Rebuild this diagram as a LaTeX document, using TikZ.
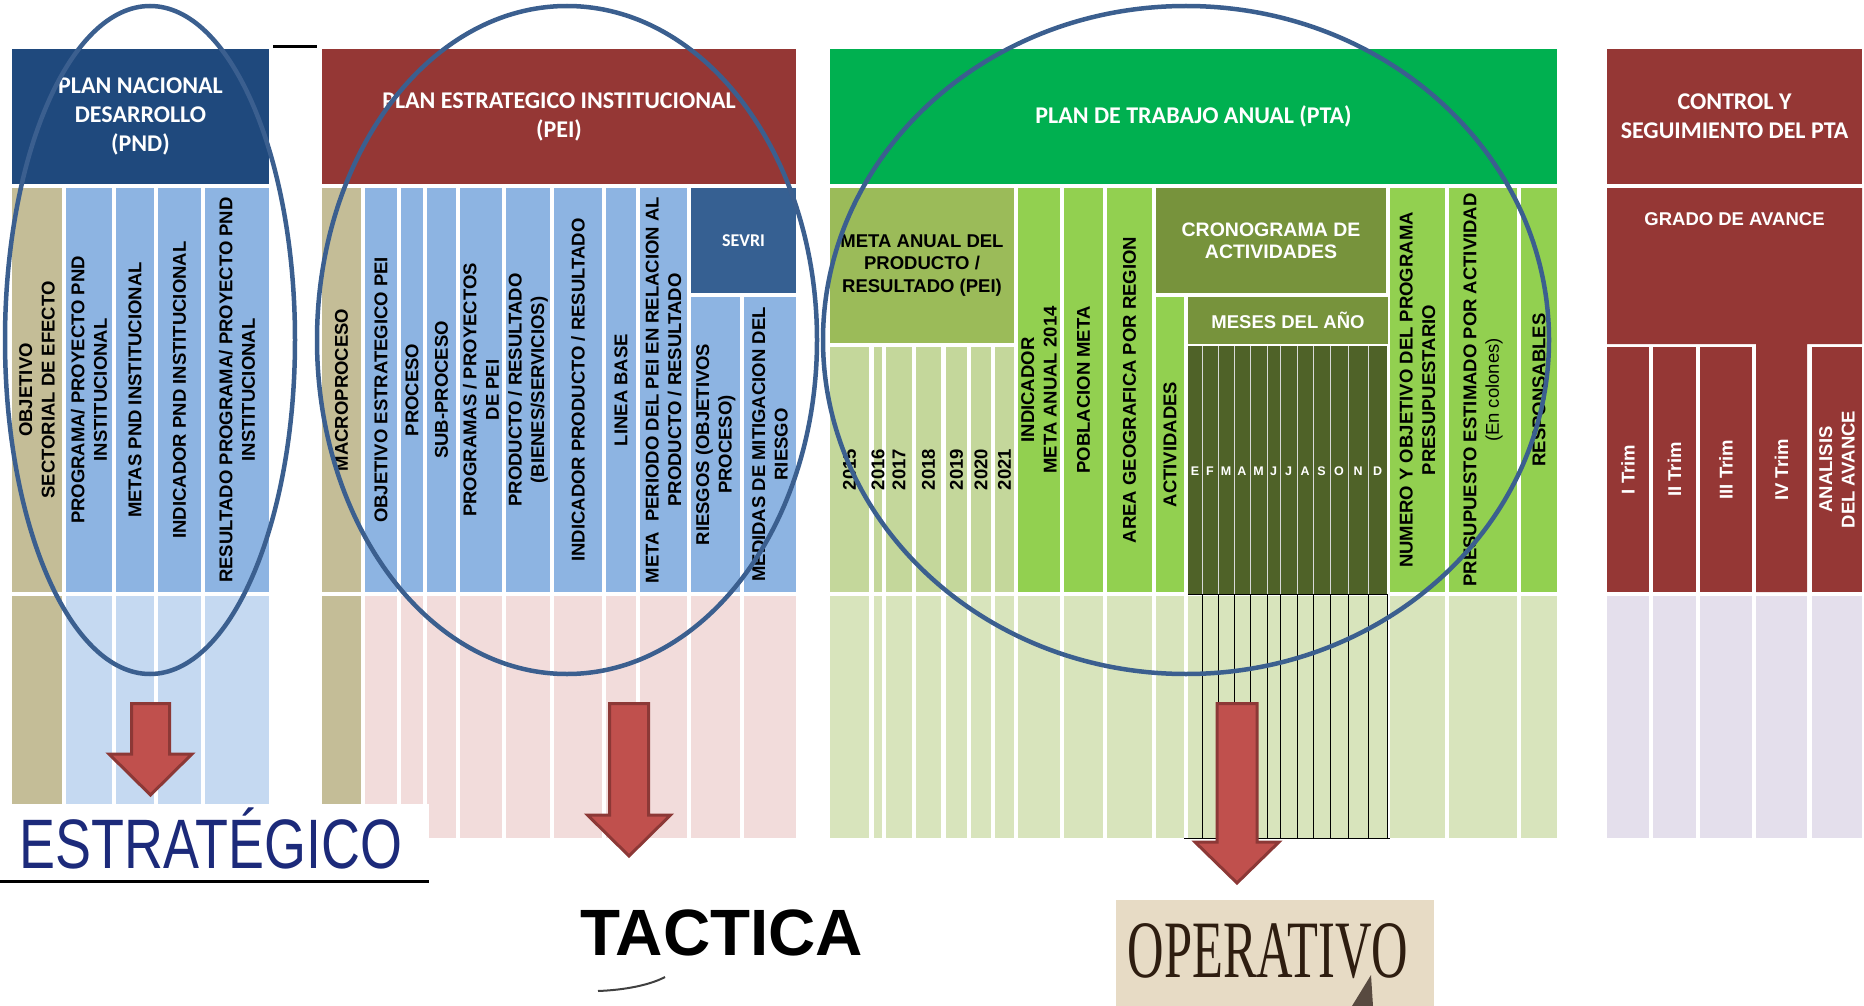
\documentclass[tikz,border=0pt]{standalone}
\usepackage{fontspec}
\setmainfont{Liberation Sans}
\newfontfamily\calib{Carlito}
\newfontfamily\oldserif{Liberation Serif}
\usepackage{graphicx}
\usepackage{tikz}
\definecolor{pndblue}{HTML}{1F497D}
\definecolor{peired}{HTML}{953735}
\definecolor{ptagreen}{HTML}{00B050}
\definecolor{cTan}{HTML}{C4BD97}
\definecolor{cBlue}{HTML}{8DB4E2}
\definecolor{cSky}{HTML}{C5D9F1}
\definecolor{cPink}{HTML}{F2DCDB}
\definecolor{cSevri}{HTML}{366092}
\definecolor{cMeta}{HTML}{9BBB59}
\definecolor{cYear}{HTML}{C4D79B}
\definecolor{cLime}{HTML}{92D050}
\definecolor{cOlive}{HTML}{77933C}
\definecolor{cDark}{HTML}{4F6228}
\definecolor{cPale}{HTML}{D8E4BC}
\definecolor{cLav}{HTML}{E4DFEC}
\definecolor{ringblue}{HTML}{3B5F8F}
\definecolor{arrowred}{HTML}{C0504D}
\definecolor{arrowdark}{HTML}{8C3836}
\definecolor{navy}{HTML}{1C2A7A}
\definecolor{beige}{HTML}{E7DBC5}
\definecolor{brown}{HTML}{2E1D10}
\tikzstyle{hdr}=[font=\calib\bfseries\fontsize{24}{29}\selectfont, text=white, align=center, inner sep=0pt]
\tikzstyle{sev}=[font=\calib\bfseries\fontsize{18}{20}\selectfont, text=white, inner sep=0pt]
\tikzstyle{col}=[font=\bfseries\fontsize{18.5}{22.5}\selectfont, align=center, inner sep=0pt]
\tikzstyle{colw}=[col, text=white]
\tikzstyle{cron}=[colw, font=\bfseries\fontsize{19.5}{22}\selectfont]
\tikzstyle{mes}=[font=\bfseries\fontsize{12.5}{14}\selectfont, text=white, inner sep=0pt]
\tikzstyle{grid}=[draw=black, line width=1pt]
\tikzstyle{sep}=[draw=white!85!black, line width=0.9pt]
\tikzstyle{ring}=[draw=ringblue, line width=4.5pt]
\tikzstyle{bigarrow}=[fill=arrowred, draw=arrowdark, line width=3pt, line join=miter]
\tikzstyle{lbl}=[inner sep=0pt, anchor=base]
\newcommand{\vcell}[8]{\fill[#6] (#2,#3) rectangle (#4,#5);
  \node[#7, rotate=90] (#1) at ({(#2+#4)/2},{(#3+#5)/2}) {#8};}
\newcommand{\hcell}[8]{\fill[#6] (#2,#3) rectangle (#4,#5);
  \node[#7] (#1) at ({(#2+#4)/2},{(#3+#5)/2}) {#8};}
\newcommand{\blockarrow}[6]{\draw[bigarrow] ({#1-#5},#2) -- ({#1+#5},#2) -- ({#1+#5},#3) -- ({#1+#6},#3) -- (#1,#4) -- ({#1-#6},#3) -- ({#1-#5},#3) -- cycle;}

\begin{document}
\begin{tikzpicture}[x=1pt, y=-1pt]
	\useasboundingbox (0,0) rectangle (1864,1006);
	\draw[line width=3pt] (273,47) -- (317,47);

	\hcell{pnd}{12}{49}{269}{184}{pndblue}{hdr}{PLAN NACIONAL\\DESARROLLO\\(PND)}
	\vcell{pnd1}{12}{188}{62}{592}{cTan}{col}{OBJETIVO\\SECTORIAL DE EFECTO}
	\vcell{pnd2}{66}{188}{112}{592}{cBlue}{col}{PROGRAMA/ PROYECTO PND\\INSTITUCIONAL}
	\vcell{pnd3}{116}{188}{154}{592}{cBlue}{col}{METAS PND INSTITUCIONAL}
	\vcell{pnd4}{158}{188}{201}{592}{cBlue}{col}{INDICADOR PND INSTITUCIONAL}
	\vcell{pnd5}{205}{188}{269}{592}{cBlue}{col}{RESULTADO PROGRAMA/ PROYECTO PND\\INSTITUCIONAL}
	\fill[cTan] (12,596) rectangle (62,838);
	\foreach \a/\b in {66/112,116/154,158/201,205/269}
		\fill[cSky] (\a,596) rectangle (\b,838);

	\hcell{pei}{322}{49}{796}{184}{peired}{hdr}{PLAN ESTRATEGICO INSTITUCIONAL\\(PEI)}
	\vcell{pei1}{322}{188}{361}{592}{cTan}{col}{MACROPROCESO}
	\vcell{pei2}{365}{188}{397}{592}{cBlue}{col}{OBJETIVO ESTRATEGICO PEI}
	\vcell{pei3}{401}{188}{423}{592}{cBlue}{col}{PROCESO}
	\vcell{pei4}{427}{188}{456}{592}{cBlue}{col}{SUB-PROCESO}
	\vcell{pei5}{460}{188}{502}{592}{cBlue}{col}{PROGRAMAS / PROYECTOS\\DE PEI}
	\vcell{pei6}{506}{188}{550}{592}{cBlue}{col}{PRODUCTO / RESULTADO\\(BIENES/SERVICIOS)}
	\vcell{pei7}{554}{188}{602}{592}{cBlue}{col}{INDICADOR PRODUCTO / RESULTADO}
	\vcell{pei8}{606}{188}{636}{592}{cBlue}{col}{LINEA BASE}
	\vcell{pei9}{640}{188}{687}{592}{cBlue}{col}{META\ \ PERIODO DEL PEI EN RELACION AL\\PRODUCTO / RESULTADO}
	\hcell{sevri}{691}{188}{796}{293}{cSevri}{sev}{SEVRI}
	\vcell{pei10}{691}{297}{740}{592}{cBlue}{col}{RIESGOS (OBJETIVOS\\PROCESO)}
	\vcell{pei11}{744}{297}{796}{592}{cBlue}{col}{MEDIDAS DE MITIGACION DEL\\RIESGO}
	\fill[cTan] (322,596) rectangle (361,838);
	\foreach \a/\b in {365/397,401/423,427/456,460/502,506/550,554/602,606/636,640/687,691/740,744/796}
		\fill[cPink] (\a,596) rectangle (\b,838);

	\hcell{pta}{830}{49}{1557}{184}{ptagreen}{hdr}{PLAN DE TRABAJO ANUAL (PTA)}
	\hcell{meta}{830}{188}{1014}{343}{cMeta}{col}{META ANUAL DEL\\PRODUCTO /\\RESULTADO (PEI)}
	\foreach \a/\b/\y in {830/869/2015,874/882/2016,886/912/2017,916/941/2018,946/967/2019,971/991/2020,995/1014/2021}
		{\vcell{y\y}{\a}{347}{\b}{592}{cYear}{col}{\y}}
	\vcell{ind}{1018}{188}{1060}{592}{cLime}{col}{INDICADOR\\META ANUAL 2014}
	\vcell{pob}{1064}{188}{1103}{592}{cLime}{col}{POBLACION META}
	\vcell{area}{1107}{188}{1152}{592}{cLime}{col}{AREA GEOGRAFICA POR REGION}
	\hcell{crono}{1156}{188}{1386}{293}{cOlive}{cron}{CRONOGRAMA DE\\ACTIVIDADES}
	\vcell{act}{1156}{297}{1184}{592}{cLime}{col}{ACTIVIDADES}
	\hcell{meses}{1188}{297}{1388}{344}{cOlive}{colw}{MESES DEL AÑO}
	\fill[cDark] (1188,346) rectangle (1387,594);
	\foreach \x in {1202,1218,1234,1250,1267,1280,1297,1313,1330,1348,1368}
		\draw[sep] (\x,346) -- (\x,594);
	\foreach \a/\b/\m [count=\i] in {1188/1202/E,1202/1218/F,1218/1234/M,1234/1250/A,1250/1267/M,1267/1280/J,1280/1297/J,1297/1313/A,1313/1330/S,1330/1348/O,1348/1368/N,1368/1387/D}
		\node[mes] (m\i) at ({(\a+\b)/2},471) {\m};
	\vcell{num}{1390}{188}{1445}{592}{cLime}{col}{NUMERO Y OBJETIVO DEL PROGRAMA\\PRESUPUESTARIO}
	\vcell{pres}{1449}{188}{1517}{592}{cLime}{col}{PRESUPUESTO ESTIMADO POR ACTIVIDAD\\{\mdseries(En colones)}}
	\vcell{resp}{1521}{188}{1557}{592}{cLime}{col}{RESPONSABLES}
	\foreach \a/\b in {830/869,874/882,886/912,916/941,946/967,971/991,995/1014,1018/1060,1064/1103,1107/1152,1156/1184,1188/1387,1390/1445,1449/1517,1521/1557}
		\fill[cPale] (\a,596) rectangle (\b,838);
	\draw[grid] (1188,594.5) -- (1387,594.5);
	\draw[grid] (1184,838) -- (1390,838);
	\foreach \x in {1202,1218,1234,1250,1267,1280,1297,1313,1330,1348,1368,1387}
		\draw[grid] (\x,594) -- (\x,838);

	\hcell{ctrl}{1607}{49}{1862}{184}{peired}{hdr}{CONTROL Y\\SEGUIMIENTO DEL PTA}
	\fill[peired] (1607,188) rectangle (1862,344) (1756,340) rectangle (1807,592);
	\node[colw] (grado) at (1734.5,219) {GRADO DE AVANCE};
	\node[colw, rotate=90] (trim4) at (1781.5,470) {IV Trim};
	\vcell{trim1}{1607}{347}{1649}{592}{peired}{colw}{I Trim}
	\vcell{trim2}{1653}{347}{1696}{592}{peired}{colw}{II Trim}
	\vcell{trim3}{1700}{347}{1752}{592}{peired}{colw}{III Trim}
	\vcell{anal}{1812}{347}{1862}{592}{peired}{colw}{ANALISIS\\DEL AVANCE}
	\foreach \a/\b in {1607/1649,1653/1696,1700/1752,1756/1807,1812/1862}
		\fill[cLav] (\a,596) rectangle (\b,838);

	\blockarrow{150.5}{703.5}{754}{795}{19}{41.5}
	\blockarrow{629}{703.5}{815}{856}{19.5}{41.5}
	\blockarrow{1237}{703.5}{842}{883}{20}{42}

	\fill[white] (0,804) rectangle (429,880);
	\draw[line width=3pt] (0,881.5) -- (429,881.5);
	\node[lbl, text=navy, font=\fontsize{70}{70}\selectfont] (estr) at (211,868) {\scalebox{0.77}[1]{ESTRATÉGICO}};

	\node[lbl, font=\bfseries\fontsize{65.5}{66}\selectfont] (tact) at (722,955) {TACTICA};
	\draw[line width=2pt, black!75] (598,991) .. controls (625,990) and (650,985) .. (665,977);

	\fill[beige] (1116,900) rectangle (1434,1006);
	\node[lbl, text=brown, font=\oldserif\fontsize{81.5}{82}\selectfont] (oper) at (1268,977) {\scalebox{0.62}[1]{OPERATIVO}};
	\fill[brown!80] (1352,1006) -- (1371,975) -- (1373,1006) -- cycle;

	\draw[ring] (150,340) ellipse [x radius=145, y radius=334];
	\draw[ring] (567,340) ellipse [x radius=250, y radius=334];
	\draw[ring] (1186,340) ellipse [x radius=363, y radius=334];
\end{tikzpicture}
\end{document}
